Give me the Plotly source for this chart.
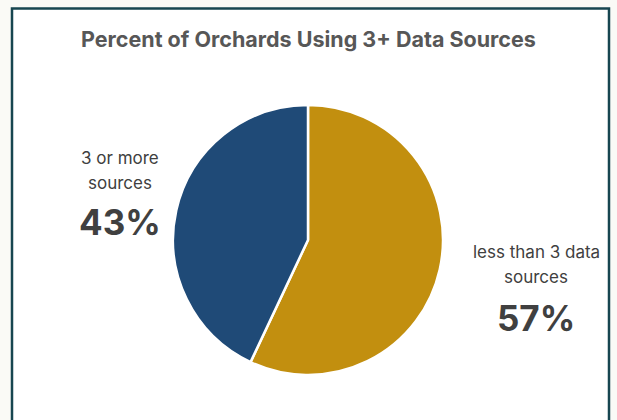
import plotly.graph_objects as go

# Chart data
categories = ["less than 3 data sources", "3 or more sources"]
label_lines = [["less than 3 data", "sources"], ["3 or more", "sources"]]
shares = [57, 43]
colors = ["#C28F0F", "#1F4A77"]
title_text = "Percent of Orchards Using 3+ Data Sources"

W, H = 617, 420
FONT = "Inter, Roboto, sans-serif"

fig = go.Figure()

fig.add_trace(go.Pie(
    labels=categories,
    values=shares,
    sort=False,
    direction="clockwise",
    rotation=0,
    marker=dict(colors=colors, line=dict(color="white", width=2.5)),
    textinfo="none",
    hoverinfo="label+percent",
    showlegend=False,
    domain=dict(x=[173 / W, 443 / W], y=[(H - 376) / H, (H - 104) / H]),
))

# Card background with left/top/right border
fig.add_shape(type="rect", xref="paper", yref="paper",
              x0=12 / W, x1=609 / W, y0=-0.05, y1=(H - 8.5) / H,
              line=dict(color="#174650", width=2.5), fillcolor="white", layer="below")

# Slice labels placed beside the pie: (center x, first line y, value y)
label_pos = [(536, 252, 318), (120, 158, 222)]
for lines, val, (cx, ty, vy) in zip(label_lines, shares, label_pos):
    for i, line in enumerate(lines):
        fig.add_annotation(x=cx / W, y=(H - (ty + 25 * i)) / H, xref="paper", yref="paper",
                           text=line, showarrow=False, xanchor="center", yanchor="middle",
                           font=dict(family=FONT, size=17, color="#404040"))
    fig.add_annotation(x=cx / W, y=(H - vy) / H, xref="paper", yref="paper",
                       text=f"<b>{val}%</b>", showarrow=False, xanchor="center", yanchor="middle",
                       font=dict(family=FONT, size=35, color="#404040"))

fig.add_annotation(x=308 / W, y=(H - 39) / H, xref="paper", yref="paper",
                   text=f"<b>{title_text}</b>", showarrow=False,
                   xanchor="center", yanchor="middle",
                   font=dict(family=FONT, size=21.5, color="#575757"))

fig.update_layout(
    width=W, height=H,
    margin=dict(l=0, r=0, t=0, b=0),
    paper_bgcolor="#FAFAF6",
    plot_bgcolor="white",
)

fig.write_html("out.html")
